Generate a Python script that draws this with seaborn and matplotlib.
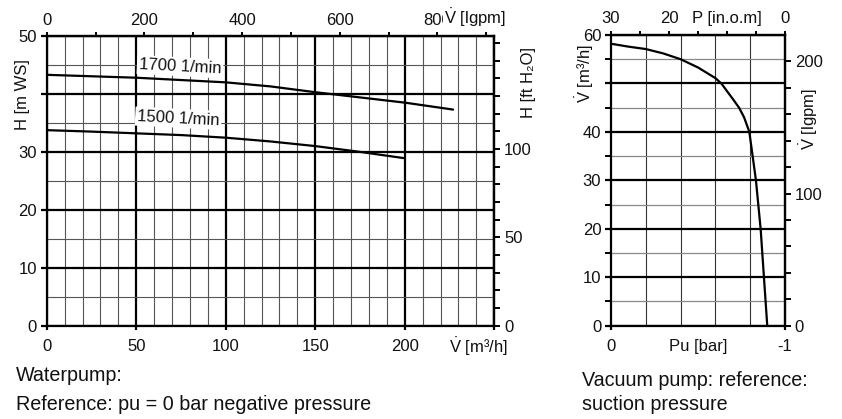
import matplotlib
matplotlib.use("Agg")
import matplotlib.pyplot as plt
import seaborn as sns
import pandas as pd
from matplotlib.ticker import MultipleLocator, FixedLocator

# ---------------- data ----------------
flow_1700 = [0, 25, 50, 75, 100, 125, 150, 175, 200, 227]
head_1700 = [43.3, 43.05, 42.8, 42.4, 42.0, 41.3, 40.3, 39.4, 38.5, 37.3]
flow_1500 = [0, 25, 50, 75, 100, 125, 150, 175, 200]
head_1500 = [33.75, 33.5, 33.2, 32.9, 32.45, 31.8, 31.0, 30.0, 28.9]

vac_pu = [0, -0.1, -0.2, -0.3, -0.4, -0.5, -0.6, -0.634, -0.7, -0.736,
          -0.765, -0.795, -0.833, -0.86, -0.879, -0.898]
vac_flow = [58.2, 57.6, 57.1, 56.2, 55.0, 53.3, 51.1, 50.0, 46.8, 45.0,
            43.0, 40.0, 30.0, 20.0, 10.0, 0.0]

wp_xticks = [0, 50, 100, 150, 200, 250]
wp_xlabels = ["0", "50", "100", "150", "200", ""]
wp_yticks = [0, 10, 20, 30, 40, 50]
wp_ylabels = ["0", "10", "20", "30", "", "50"]
wp_igpm_ticks = [0, 200, 400, 600, 800]
wp_ft_ticks = [0, 50, 100]
vp_xticks = [0, -0.5, -1]
vp_xlabels = ["0", "Pu [bar]", "-1"]
vp_yticks = [0, 10, 20, 30, 40, 50, 60]
vp_ylabels = ["0", "10", "20", "30", "40", "", "60"]
vp_top_ticks = [30, 20, 10, 0]
vp_top_labels = ["30", "20", "P [in.o.m]", "0"]
vp_igpm_ticks = [0, 100, 200]

K_IGPM = 1000.0 / 60.0 / 4.54609   # m3/h -> Imp. gal/min
K_FT = 3.28084                      # m -> ft

sns.set_theme(style="white")
plt.rcParams["font.family"] = ["Liberation Sans", "DejaVu Sans"]
plt.rcParams["font.size"] = 12
plt.rcParams["mathtext.fontset"] = "custom"
plt.rcParams["mathtext.rm"] = "Liberation Sans"
plt.rcParams["mathtext.it"] = "Liberation Sans:italic"
plt.rcParams["mathtext.bf"] = "Liberation Sans:bold"

VDOT = r"$\dot{\mathrm{V}}$"

W, H = 842, 419
fig = plt.figure(figsize=(W / 100, H / 100), dpi=100)


def fx(px):
    return px / W


def fy(py):
    return 1 - py / H


TXT = "#111111"
SPW = 1.6
FS = 12
CFS = 14.2

# ---------------- water pump panel ----------------
ax1 = fig.add_axes([fx(46.7), fy(325.7), fx(494.3) - fx(46.7), fy(36) - fy(325.7)])
df1 = pd.DataFrame({"Q": flow_1700, "H": head_1700})
df2 = pd.DataFrame({"Q": flow_1500, "H": head_1500})
sns.lineplot(data=df1, x="Q", y="H", ax=ax1, color="black", lw=1.6, zorder=5)
sns.lineplot(data=df2, x="Q", y="H", ax=ax1, color="black", lw=1.6, zorder=5)
ax1.set_xlim(0, 250)
ax1.set_ylim(0, 50)
ax1.set_xlabel("")
ax1.set_ylabel("")
ax1.xaxis.set_major_locator(FixedLocator(wp_xticks))
ax1.set_xticklabels(wp_xlabels)
ax1.yaxis.set_major_locator(FixedLocator(wp_yticks))
ax1.set_yticklabels(wp_ylabels)
ax1.xaxis.set_minor_locator(MultipleLocator(10))
ax1.yaxis.set_minor_locator(MultipleLocator(5))
ax1.set_axisbelow(True)
ax1.grid(which="major", color="black", lw=1.6)
ax1.grid(which="minor", color="#555555", lw=0.8)
for s in ax1.spines.values():
    s.set_visible(True)
    s.set_color("black")
    s.set_linewidth(SPW)
ax1.tick_params(which="major", direction="out", length=4, width=1.6,
                color="black", labelsize=FS, labelcolor=TXT, pad=3)
ax1.tick_params(axis="x", which="major", bottom=True, length=3, pad=6.5)
ax1.tick_params(axis="y", which="major", left=True)
ax1.tick_params(which="minor", length=0)

secx = ax1.secondary_xaxis("top", functions=(lambda q: q * K_IGPM, lambda g: g / K_IGPM))
secx.set_xticks(wp_igpm_ticks)
secx.set_xticklabels([str(v) for v in wp_igpm_ticks])
secx.xaxis.set_minor_locator(MultipleLocator(100))
secx.tick_params(which="both", direction="out", length=3, width=1.4, color="black",
                 labelsize=FS, labelcolor=TXT, pad=3)
secx.spines["top"].set_linewidth(SPW)

secy = ax1.secondary_yaxis("right", functions=(lambda m: m * K_FT, lambda f: f / K_FT))
secy.set_yticks(wp_ft_ticks)
secy.set_yticklabels([str(v) for v in wp_ft_ticks])
secy.yaxis.set_minor_locator(MultipleLocator(10))
secy.tick_params(which="both", direction="out", length=4, width=1.4, color="black",
                 labelsize=FS, labelcolor=TXT, pad=3)
secy.spines["right"].set_linewidth(SPW)

box = dict(facecolor="white", edgecolor="none", pad=1.5)
ax1.text(74.5, 44.7, "1700 1/min", rotation=-3, ha="center", va="center",
         fontsize=FS, color=TXT, bbox=box, zorder=6)
ax1.text(73.5, 35.8, "1500 1/min", rotation=-3, ha="center", va="center",
         fontsize=FS, color=TXT, bbox=box, zorder=6)

fig.text(fx(23), fy(95), "H [m WS]", rotation=90, ha="center", va="center",
         fontsize=FS, color=TXT)
fig.text(fx(528), fy(83), "H [ft H\u2082O]", rotation=90, ha="center", va="center",
         fontsize=FS, color=TXT)
fig.text(fx(444), fy(18), VDOT + " [lgpm]", ha="left", va="center", fontsize=FS,
         color=TXT, bbox=dict(facecolor="white", edgecolor="none", pad=1))
fig.text(fx(449), fy(347), VDOT + " [m\u00b3/h]", ha="left", va="center",
         fontsize=FS, color=TXT)

# ---------------- vacuum pump panel ----------------
ax2 = fig.add_axes([fx(611), fy(325.7), fx(785) - fx(611), fy(35) - fy(325.7)])
df3 = pd.DataFrame({"Pu": vac_pu, "V": vac_flow})
sns.lineplot(data=df3, x="Pu", y="V", ax=ax2, color="black", lw=1.6, zorder=5,
             sort=False)
ax2.set_xlim(0, -1)
ax2.set_ylim(0, 60)
ax2.set_xlabel("")
ax2.set_ylabel("")
ax2.xaxis.set_major_locator(FixedLocator(vp_xticks))
ax2.set_xticklabels(vp_xlabels)
ax2.yaxis.set_major_locator(FixedLocator(vp_yticks))
ax2.set_yticklabels(vp_ylabels)
ax2.xaxis.set_minor_locator(MultipleLocator(0.2))
ax2.yaxis.set_minor_locator(MultipleLocator(5))
ax2.set_axisbelow(True)
ax2.grid(axis="x", which="major", visible=False)
ax2.grid(axis="x", which="minor", color="#333333", lw=0.8)
ax2.grid(axis="y", which="major", color="black", lw=1.6)
ax2.grid(axis="y", which="minor", color="#888888", lw=0.9)
for s in ax2.spines.values():
    s.set_visible(True)
    s.set_color("black")
    s.set_linewidth(SPW)
ax2.tick_params(which="major", direction="out", length=4, width=1.6,
                color="black", labelsize=FS, labelcolor=TXT, pad=3)
ax2.tick_params(axis="x", which="major", bottom=True, length=3, pad=6.5)
ax2.tick_params(axis="y", which="major", left=True)
ax2.tick_params(axis="y", which="minor", left=True, length=4, width=1.4, color="black")
ax2.tick_params(axis="x", which="minor", length=0)
ax2.xaxis.get_major_ticks()[1].tick1line.set_visible(False)

secx2 = ax2.secondary_xaxis("top", functions=(lambda p: 30 + 30 * p, lambda m: m / 30 - 1))
secx2.set_xticks(vp_top_ticks)
secx2.set_xticklabels(vp_top_labels)
secx2.xaxis.set_minor_locator(MultipleLocator(5))
secx2.tick_params(which="both", direction="out", length=3, width=1.4, color="black",
                  labelsize=FS, labelcolor=TXT, pad=3.5)
secx2.spines["top"].set_linewidth(SPW)

secy2 = ax2.secondary_yaxis("right", functions=(lambda v: v * K_IGPM, lambda g: g / K_IGPM))
secy2.set_yticks(vp_igpm_ticks)
secy2.set_yticklabels([str(v) for v in vp_igpm_ticks])
secy2.yaxis.set_minor_locator(MultipleLocator(20))
secy2.tick_params(which="both", direction="out", length=4, width=1.4, color="black",
                  labelsize=FS, labelcolor=TXT, pad=3)
secy2.spines["right"].set_linewidth(SPW)

fig.text(fx(585), fy(74), VDOT + " [m\u00b3/h]", rotation=90, ha="center", va="center",
         fontsize=FS, color=TXT)
fig.text(fx(809), fy(119), VDOT + " [lgpm]", rotation=90, ha="center", va="center",
         fontsize=FS, color=TXT)

# ---------------- captions ----------------
fig.text(fx(16), fy(375), "Waterpump:", ha="left", va="center", fontsize=CFS, color=TXT)
fig.text(fx(16), fy(404), "Reference: pu = 0 bar negative pressure", ha="left",
         va="center", fontsize=CFS, color=TXT)
fig.text(fx(582), fy(380), "Vacuum pump: reference:", ha="left", va="center",
         fontsize=CFS, color=TXT)
fig.text(fx(582), fy(404), "suction pressure", ha="left", va="center",
         fontsize=CFS, color=TXT)

fig.savefig("out.png", dpi=100, facecolor="white")
